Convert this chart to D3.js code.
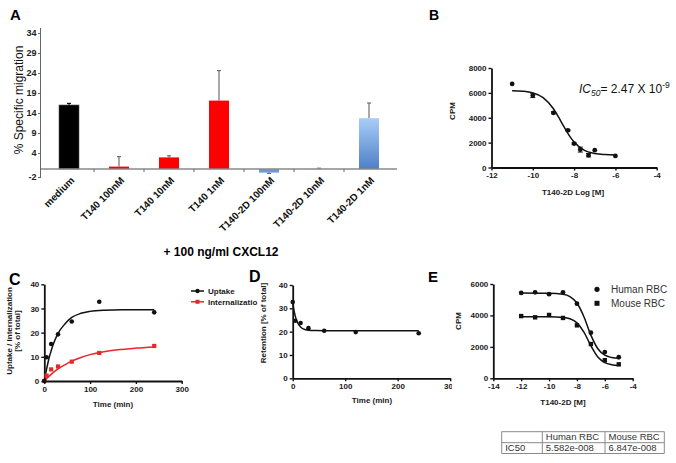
<!DOCTYPE html>
<html>
<head>
<meta charset="utf-8">
<script src="https://cdn.jsdelivr.net/npm/d3@7"></script>
<style>
  body { margin: 0; background: #fff; }
  svg { display: block; font-family: Arial, "Liberation Sans", sans-serif; }
</style>
</head>
<body>
<div id="chart"></div>
<script>
// ---- panel A: migration bars
const catsA = ["medium", "T140 100nM", "T140 10nM", "T140 1nM", "T140-2D 100nM", "T140-2D 10nM", "T140-2D 1nM"];
const valsA = [16.0, 0.6, 2.9, 17.1, -0.9, 0.05, 12.7];
const errA = [0.4, 2.5, 0.4, 7.5, 0.2, 0.15, 3.8];
const ticksA = [-2, 4, 9, 14, 19, 24, 29, 34];

// ---- panel B: binding curve
const doseB = [-11, -10, -9, -8.3, -8, -7.7, -7.3, -7, -6];
const cpmB = [6720, 5780, 4400, 2990, 1920, 1440, 990, 1390, 930];
const errB = [0, 160, 80, 60, 80, 200, 140, 0, 0];
const fitDoseB = [-11, -10.5, -10, -9.5, -9, -8.75, -8.5, -8.25, -8, -7.5, -7, -6.5, -6];
const fitCpmB = [6180, 6135, 6000, 5620, 4720, 4045, 3300, 2605, 2045, 1380, 1130, 1040, 1010];

// ---- panel C: uptake / internalization
const timeC = [0, 5, 15, 30, 60, 120, 240];
const uptakeC = [0, 9.8, 15.3, 19.3, 24.6, 32.8, 28.4];
const internC = [0, 2.2, 4.8, 6.0, 8.0, 11.6, 14.5];
const fitTimeUp = [0, 5, 10, 15, 20, 30, 45, 60, 80, 100, 130, 170, 240];
const fitUptake = [0, 4.9, 9.2, 12.5, 15.4, 19.7, 23.6, 26.3, 28.0, 28.8, 29.3, 29.5, 29.5];
const fitTimeIn = [0, 10, 20, 30, 45, 60, 80, 100, 130, 160, 200, 240];
const fitIntern = [0, 1.9, 3.6, 5.0, 6.7, 8.2, 9.7, 10.9, 12.1, 12.9, 13.6, 14.1];
const seriesC = ["Uptake", "Internalizatio"];

// ---- panel D: retention
const timeD = [0, 5, 15, 30, 60, 120, 240];
const retD = [32.7, 24.7, 23.7, 21.5, 20.4, 19.8, 19.3];
const fitTimeD = [0, 3, 6, 10, 15, 20, 30, 45, 60, 120, 240];
const fitRetD = [32.5, 28.5, 25.8, 23.5, 22.0, 21.2, 20.6, 20.45, 20.4, 20.4, 20.4];

// ---- panel E: RBC binding
const doseE = [-12, -11, -10, -9, -8, -7, -6, -5];
const humanE = [5430, 5470, 5350, 5470, 4750, 2900, 1670, 1340];
const mouseE = [3960, 3880, 4030, 3840, 3370, 2180, 1150, 890];
const fitDoseE = [-12, -10, -9, -8.5, -8, -7.5, -7, -6.5, -6, -5.5, -5];
const fitHumanE = [5420, 5410, 5350, 5200, 4790, 3920, 2750, 1880, 1470, 1320, 1270];
const fitMouseE = [3920, 3915, 3875, 3785, 3525, 2940, 2075, 1360, 1000, 865, 820];
const seriesE = ["Human RBC", "Mouse RBC"];

// ---- IC50 table
const tableHead = ["", "Human RBC", "Mouse RBC"];
const tableRow = ["IC50", "5.582e-008", "6.847e-008"];

const plain = (d) => String(d);

const svg = d3.select("#chart").append("svg")
  .attr("width", 676)
  .attr("height", 463);

const defs = svg.append("defs");
const grad = defs.append("linearGradient")
  .attr("id", "blueGrad")
  .attr("x1", 0).attr("y1", 0).attr("x2", 0).attr("y2", 1);
grad.append("stop").attr("offset", "0%").attr("stop-color", "#a9cdf9");
grad.append("stop").attr("offset", "100%").attr("stop-color", "#4d80c6");

function panelLetter(t, x, y, size) {
  svg.append("text").attr("x", x).attr("y", y)
    .style("font-size", size + "px").style("font-weight", "bold")
    .text(t);
}

// GraphPad style axes
function gpAxes(g, x, y, xTicks, yTicks) {
  const ax = g.append("g")
    .attr("transform", `translate(0,${y.range()[0]})`)
    .call(d3.axisBottom(x).tickValues(xTicks).tickFormat(plain).tickSize(3).tickSizeOuter(0).tickPadding(2));
  const ay = g.append("g")
    .attr("transform", `translate(${x.range()[0]},0)`)
    .call(d3.axisLeft(y).tickValues(yTicks).tickFormat(plain).tickSize(3).tickSizeOuter(0).tickPadding(2));
  [ax, ay].forEach((a) => {
    a.select(".domain").attr("stroke", "#111").attr("stroke-width", 1.8);
    a.selectAll(".tick line").attr("stroke", "#111").attr("stroke-width", 1.4);
    a.selectAll(".tick text")
      .style("font-size", "8px").style("font-weight", "bold")
      .style("font-family", "Arial, 'Liberation Sans', sans-serif")
      .attr("fill", "#1a1a1a");
  });
}

function axisTitle(text, x, y, rotate) {
  svg.append("text")
    .attr("transform", `translate(${x},${y})` + (rotate ? " rotate(-90)" : ""))
    .attr("text-anchor", "middle")
    .style("font-size", "8px").style("font-weight", "bold")
    .attr("fill", "#1a1a1a")
    .text(text);
}

function squares(g, pts, size, color) {
  g.selectAll(null).data(pts).enter().append("rect")
    .attr("x", (d) => d[0] - size / 2).attr("y", (d) => d[1] - size / 2)
    .attr("width", size).attr("height", size).attr("fill", color);
}
function dots(g, pts, r, color) {
  g.selectAll(null).data(pts).enter().append("circle")
    .attr("cx", (d) => d[0]).attr("cy", (d) => d[1]).attr("r", r).attr("fill", color);
}

// =================== A ===================
panelLetter("A", 10, 20, 15);
{
  const x = d3.scaleBand().domain(catsA).range([41, 397]).paddingInner(0.6).paddingOuter(0.36);
  const y = d3.scaleLinear().domain([-2, 34]).range([177, 33]);
  const g = svg.append("g");

  const fillA = (c) => c.startsWith("T140-2D") ? (c.endsWith("100nM") ? "#6e9bd8" : "url(#blueGrad)")
    : c.startsWith("T140") ? "#ff0000" : "#000000";

  // error bars
  catsA.forEach((c, i) => {
    const cx = x(c) + x.bandwidth() / 2;
    const v = valsA[i], e = errA[i];
    const tip = v >= 0 ? v + e : v - e;
    const col = i === 0 ? "#111" : "#707070";
    g.append("line").attr("x1", cx).attr("x2", cx).attr("y1", y(v)).attr("y2", y(tip))
      .attr("stroke", col).attr("stroke-width", 1.2);
    g.append("line").attr("x1", cx - 2).attr("x2", cx + 2).attr("y1", y(tip)).attr("y2", y(tip))
      .attr("stroke", col).attr("stroke-width", 1.2);
  });

  g.selectAll(".barA").data(catsA).enter().append("rect")
    .attr("class", "barA")
    .attr("x", (c) => x(c))
    .attr("width", x.bandwidth())
    .attr("y", (c, i) => y(Math.max(0, valsA[i])))
    .attr("height", (c, i) => Math.abs(y(valsA[i]) - y(0)))
    .attr("fill", fillA)
    .attr("stroke", (c, i) => i === 0 ? "#555" : "none")
    .attr("stroke-width", 0.6);

  // y axis
  const ay = g.append("g").attr("transform", "translate(41,0)")
    .call(d3.axisLeft(y).tickValues(ticksA).tickFormat(plain).tickSize(3).tickSizeOuter(0).tickPadding(1.5));
  ay.select(".domain").attr("stroke", "#666").attr("stroke-width", 1).attr("d", `M-0.5,${y(-2)}V${y(34) - 5}`);
  ay.selectAll(".tick line").attr("stroke", "#666");
  ay.selectAll(".tick text").style("font-size", "9px").style("font-weight", "bold")
    .style("font-family", "Arial, 'Liberation Sans', sans-serif").attr("fill", "#222");

  // baseline with boundary ticks
  g.append("line").attr("x1", 41).attr("x2", 397).attr("y1", y(0)).attr("y2", y(0))
    .attr("stroke", "#888").attr("stroke-width", 1.5);
  catsA.slice(1).forEach((c) => {
    const bx = x(c) - x.step() * 0.3;
    g.append("line").attr("x1", bx).attr("x2", bx).attr("y1", y(0)).attr("y2", y(0) + 3)
      .attr("stroke", "#666").attr("stroke-width", 1);
  });

  // category labels
  g.selectAll(".labA").data(catsA).enter().append("text")
    .attr("class", "labA")
    .attr("transform", (c) => `translate(${x(c) + x.bandwidth() / 2 + 6},${y(0) + 12}) rotate(-45)`)
    .attr("text-anchor", "end")
    .style("font-size", "10px").style("font-weight", "bold")
    .attr("fill", "#111")
    .text((c) => c);

  svg.append("text")
    .attr("transform", "translate(23,100) rotate(-90)")
    .attr("text-anchor", "middle")
    .style("font-size", "12px")
    .attr("fill", "#111")
    .text("% Specific migration");

  svg.append("text").attr("x", 221).attr("y", 256)
    .attr("text-anchor", "middle")
    .style("font-size", "12px").style("font-weight", "bold")
    .text("+ 100 ng/ml CXCL12");
}

// =================== B ===================
panelLetter("B", 429, 20, 14);
{
  const x = d3.scaleLinear().domain([-12, -4]).range([491.5, 656.7]);
  const y = d3.scaleLinear().domain([0, 8000]).range([167.5, 68]);
  const g = svg.append("g");
  gpAxes(g, x, y, [-12, -10, -8, -6, -4], [0, 2000, 4000, 6000, 8000]);

  const line = d3.line().x((d, i) => x(fitDoseB[i])).y((d) => y(d)).curve(d3.curveMonotoneX);
  g.append("path").datum(fitCpmB).attr("d", line)
    .attr("fill", "none").attr("stroke", "#111").attr("stroke-width", 1.5);

  doseB.forEach((d, i) => {
    if (errB[i] > 0) {
      const cx = x(d);
      g.append("path")
        .attr("d", `M${cx},${y(cpmB[i] - errB[i])}V${y(cpmB[i] + errB[i])}M${cx - 2.5},${y(cpmB[i] - errB[i])}h5M${cx - 2.5},${y(cpmB[i] + errB[i])}h5`)
        .attr("stroke", "#111").attr("stroke-width", 1);
    }
  });
  dots(g, doseB.map((d, i) => [x(d), y(cpmB[i])]), 2.4, "#111");

  axisTitle("CPM", 455, 111, true);
  axisTitle("T140-2D Log [M]", 573, 195, false);

  const ic = svg.append("text").attr("x", 579).attr("y", 93)
    .style("font-size", "12px").attr("fill", "#111");
  ic.append("tspan").style("font-style", "italic").text("IC");
  ic.append("tspan").style("font-style", "italic").style("font-size", "8.5px").attr("dy", 3).text("50");
  ic.append("tspan").attr("dy", -3).text("= 2.47 X 10");
  ic.append("tspan").style("font-size", "8.5px").attr("dy", -5).text("-9");
}

// =================== C ===================
panelLetter("C", 9, 285, 16);
{
  const x = d3.scaleLinear().domain([0, 300]).range([44.3, 181.7]);
  const y = d3.scaleLinear().domain([0, 40]).range([381, 284.3]);
  const g = svg.append("g");
  gpAxes(g, x, y, [0, 100, 200, 300], [0, 10, 20, 30, 40]);

  const lineUp = d3.line().x((d, i) => x(fitTimeUp[i])).y((d) => y(d)).curve(d3.curveMonotoneX);
  const lineIn = d3.line().x((d, i) => x(fitTimeIn[i])).y((d) => y(d)).curve(d3.curveMonotoneX);
  g.append("path").datum(fitIntern).attr("d", lineIn)
    .attr("fill", "none").attr("stroke", "#e8262b").attr("stroke-width", 1.5);
  g.append("path").datum(fitUptake).attr("d", lineUp)
    .attr("fill", "none").attr("stroke", "#111").attr("stroke-width", 1.5);

  squares(g, timeC.map((t, i) => [x(t), y(internC[i])]), 4.2, "#e8262b");
  dots(g, timeC.map((t, i) => [x(t), y(uptakeC[i])]), 2.3, "#111");

  axisTitle("Uptake / Internalization", 12, 331, true);
  axisTitle("[% of total]", 20, 331, true);
  axisTitle("Time (min)", 113, 407, false);

  // legend
  const leg = svg.append("g");
  seriesC.forEach((s, i) => {
    const ly = 291 + i * 10.8;
    const col = i === 0 ? "#111" : "#e8262b";
    leg.append("line").attr("x1", 191).attr("x2", 204).attr("y1", ly).attr("y2", ly)
      .attr("stroke", col).attr("stroke-width", 1.5);
    if (i === 0) dots(leg, [[197.5, ly]], 2.2, col);
    else squares(leg, [[197.5, ly]], 4, col);
    leg.append("text").attr("x", 208).attr("y", ly + 3)
      .style("font-size", "8px").style("font-weight", "bold").attr("fill", "#1a1a1a")
      .text(s);
  });
}

// =================== D ===================
panelLetter("D", 249, 282, 16);
{
  const x = d3.scaleLinear().domain([0, 300]).range([292.7, 450.2]);
  const y = d3.scaleLinear().domain([0, 40]).range([378.3, 285]);
  const g = svg.append("g");
  gpAxes(g, x, y, [0, 100, 200, 300], [0, 10, 20, 30, 40]);

  const line = d3.line().x((d, i) => x(fitTimeD[i])).y((d) => y(d)).curve(d3.curveMonotoneX);
  g.append("path").datum(fitRetD).attr("d", line)
    .attr("fill", "none").attr("stroke", "#111").attr("stroke-width", 1.5);
  dots(g, timeD.map((t, i) => [x(t), y(retD[i])]), 2.3, "#111");

  axisTitle("Retention [% of total]", 266, 323, true);
  axisTitle("Time (min)", 372, 403, false);
}

// =================== E ===================
svg.append("rect").attr("x", 452).attr("y", 258).attr("width", 224).attr("height", 170).attr("fill", "#fff");
panelLetter("E", 428, 282, 15);
{
  const x = d3.scaleLinear().domain([-14, -4]).range([493.3, 632.7]);
  const y = d3.scaleLinear().domain([0, 6000]).range([378.3, 284]);
  const g = svg.append("g");
  gpAxes(g, x, y, [-14, -12, -10, -8, -6, -4], [0, 2000, 4000, 6000]);

  const line = d3.line().x((d, i) => x(fitDoseE[i])).y((d) => y(d)).curve(d3.curveMonotoneX);
  [fitHumanE, fitMouseE].forEach((f) => {
    g.append("path").datum(f).attr("d", line)
      .attr("fill", "none").attr("stroke", "#111").attr("stroke-width", 1.5);
  });
  dots(g, doseE.map((d, i) => [x(d), y(humanE[i])]), 2.4, "#111");
  squares(g, doseE.map((d, i) => [x(d), y(mouseE[i])]), 4.4, "#111");

  axisTitle("CPM", 461, 321, true);
  axisTitle("T140-2D [M]", 563, 405, false);

  seriesE.forEach((s, i) => {
    const ly = 289.3 + i * 14;
    if (i === 0) dots(svg, [[597, ly]], 2.6, "#111");
    else squares(svg, [[597, ly]], 5, "#111");
    svg.append("text").attr("x", 611).attr("y", ly + 3.6)
      .style("font-size", "10px").attr("fill", "#333").text(s);
  });
}

// =================== table ===================
{
  const colX = [501.7, 542.3, 605, 664.3];
  const rowY = [431.7, 442.7, 453.5];
  const t = svg.append("g");
  rowY.forEach((yy) => t.append("line").attr("x1", colX[0]).attr("x2", colX[3]).attr("y1", yy).attr("y2", yy)
    .attr("stroke", "#8a8a8a").attr("stroke-width", 1));
  colX.forEach((xx) => t.append("line").attr("x1", xx).attr("x2", xx).attr("y1", rowY[0]).attr("y2", rowY[2])
    .attr("stroke", "#8a8a8a").attr("stroke-width", 1));
  [tableHead, tableRow].forEach((row, r) => {
    row.forEach((txt, c) => {
      t.append("text").attr("x", colX[c] + 3.5).attr("y", rowY[r + 1] - 2.3)
        .style("font-size", "9.5px").attr("fill", "#333").text(txt);
    });
  });
}
</script>
</body>
</html>
